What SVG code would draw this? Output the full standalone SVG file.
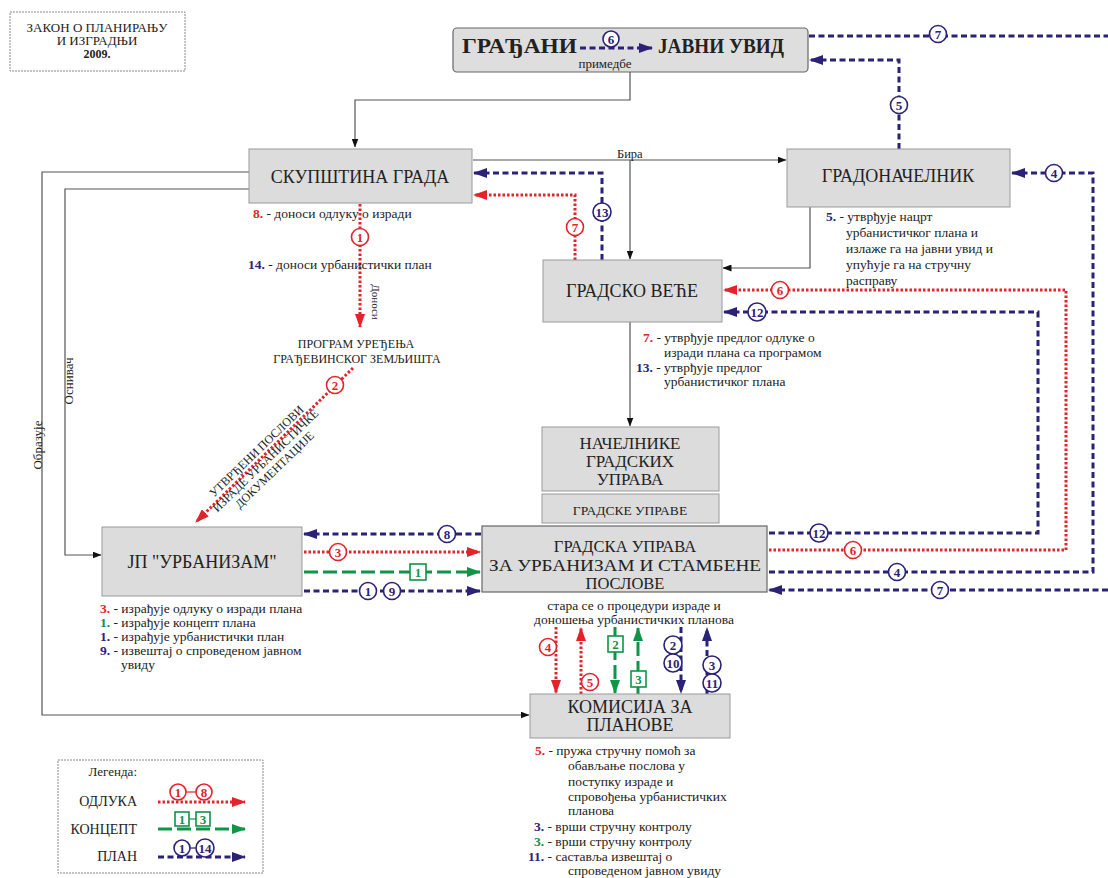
<svg xmlns="http://www.w3.org/2000/svg" width="1108" height="878" viewBox="0 0 1108 878">
<style>
.t{font-family:"Liberation Serif","Times New Roman",serif;fill:#222}
.box{fill:#dcdcdc;stroke:#9a9a9a;stroke-width:1}
.red{stroke:#e3232a;stroke-width:3;stroke-dasharray:2.5 2;fill:none}
.blue{stroke:#2b2277;stroke-width:3;stroke-dasharray:6 3.5;fill:none}
.green{stroke:#109448;stroke-width:3;stroke-dasharray:14 5;fill:none}
.gray{stroke:#555;stroke-width:1.2;fill:none}
.bR circle{fill:#fff;stroke:#e3232a;stroke-width:1.6}
.bB circle{fill:#fff;stroke:#2b2277;stroke-width:1.6}
.bG rect{fill:#fff;stroke:#109448;stroke-width:1.6}
.bR text,.bB text,.bG text{font-family:"Liberation Serif",serif;font-weight:bold;font-size:13px;text-anchor:middle}
.bR text{fill:#e3232a}.bB text{fill:#2b2277}.bG text{fill:#109448}
.nr{fill:#e3232a;font-weight:bold}.nb{fill:#2b2277;font-weight:bold}.ng{fill:#109448;font-weight:bold}
.mid{text-anchor:middle}
</style>
<defs>
<marker id="aR" viewBox="0 0 14 10" refX="13" refY="5" markerWidth="14" markerHeight="10" orient="auto" markerUnits="userSpaceOnUse"><path d="M0,0 L14,5 L0,10 Z" fill="#e3232a"/></marker>
<marker id="aB" viewBox="0 0 14 10" refX="13" refY="5" markerWidth="14" markerHeight="10" orient="auto" markerUnits="userSpaceOnUse"><path d="M0,0 L14,5 L0,10 Z" fill="#2b2277"/></marker>
<marker id="aG" viewBox="0 0 14 10" refX="13" refY="5" markerWidth="14" markerHeight="10" orient="auto" markerUnits="userSpaceOnUse"><path d="M0,0 L14,5 L0,10 Z" fill="#109448"/></marker>
<marker id="aK" viewBox="0 0 9 7" refX="8.5" refY="3.5" markerWidth="9" markerHeight="7" orient="auto" markerUnits="userSpaceOnUse"><path d="M0,0 L9,3.5 L0,7 Z" fill="#111"/></marker>
</defs>
<rect width="1108" height="878" fill="#fff"/>

<g id="title">
<rect x="10" y="12" width="175" height="59" fill="#fff" stroke="#888" stroke-width="1" stroke-dasharray="2 1"/>
<text class="t mid" x="97" y="32" font-size="13">ЗАКОН О ПЛАНИРАЊУ</text>
<text class="t mid" x="97" y="45" font-size="13">И ИЗГРАДЊИ</text>
<text class="t mid" x="97" y="58" font-size="12" font-weight="bold">2009.</text>
</g>

<g id="gradjani">
<rect x="453" y="28" width="355" height="44" rx="4" fill="#dedede" stroke="#666" stroke-width="1.2"/>
<text class="t" x="462" y="53" font-size="20" font-weight="bold" textLength="115" lengthAdjust="spacingAndGlyphs">ГРАЂАНИ</text>
<text class="t" x="658" y="53" font-size="20" font-weight="bold" textLength="126" lengthAdjust="spacingAndGlyphs">ЈАВНИ УВИД</text>
</g>

<g id="connectors">
<!-- gray -->
<path class="gray" d="M630,72 V100 H355 V147" marker-end="url(#aK)"/>
<path class="gray" d="M473,160 H786" marker-end="url(#aK)"/>
<path class="gray" d="M630,160 V259" marker-end="url(#aK)"/>
<path class="gray" d="M810,207 V268 H723" marker-end="url(#aK)"/>
<path class="gray" d="M630,322 V426" marker-end="url(#aK)"/>
<path class="gray" d="M249,172 H42 V715 H529" marker-end="url(#aK)"/>
<path class="gray" d="M249,189 H65 V555 H101" marker-end="url(#aK)"/>
<!-- top -->
<path class="blue" d="M580,48 H652" marker-end="url(#aB)"/>
<path class="blue" d="M809,36 H1108"/>
<path class="blue" d="M899,149 V60 H810" marker-end="url(#aB)"/>
<!-- skupstina -->
<path class="blue" d="M602,260 V173 H474" marker-end="url(#aB)"/>
<path class="red" d="M575,260 V195 H474" marker-end="url(#aR)"/>
<path class="red" d="M360,204 V327" marker-end="url(#aR)"/>
<path class="red" d="M353,368 L196,522" marker-end="url(#aR)"/>
<!-- right side -->
<path class="blue" d="M769,572 H1093 V173 H1012" marker-end="url(#aB)"/>
<path class="red" d="M769,550 H1066 V290 H724" marker-end="url(#aR)"/>
<path class="blue" d="M769,533 H1038 V312 H724" marker-end="url(#aB)"/>
<path class="blue" d="M1108,590 H769" marker-end="url(#aB)"/>
<!-- JP -->
<path class="blue" d="M481,534 H304" marker-end="url(#aB)"/>
<path class="red" d="M304,552 H480" marker-end="url(#aR)"/>
<path class="green" d="M304,572 H480" marker-end="url(#aG)"/>
<path class="blue" d="M304,591 H480" marker-end="url(#aB)"/>
<!-- komisija -->
<path class="red" d="M556,627 V693" marker-end="url(#aR)"/>
<path class="red" d="M581,694 V628" marker-end="url(#aR)"/>
<path class="green" d="M615,627 V693" marker-end="url(#aG)"/>
<path class="green" d="M638,694 V628" marker-end="url(#aG)"/>
<path class="blue" d="M681,627 V693" marker-end="url(#aB)"/>
<path class="blue" d="M707,694 V628" marker-end="url(#aB)"/>

<!-- badges -->
<g class="bB"><circle cx="611" cy="39" r="8"/><text x="611" y="43.5">6</text></g>
<g class="bB"><circle cx="938" cy="34" r="8.5"/><text x="938" y="38.5">7</text></g>
<g class="bB"><circle cx="899" cy="105" r="8.5"/><text x="899" y="109.5">5</text></g>
<g class="bB"><circle cx="602" cy="212" r="9"/><text x="602" y="216.5" font-size="11">13</text></g>
<g class="bR"><circle cx="575" cy="227" r="8.5"/><text x="575" y="231.5">7</text></g>
<g class="bR"><circle cx="360" cy="237" r="8.5"/><text x="360" y="241.5">1</text></g>
<g class="bR"><circle cx="335" cy="385" r="8.5"/><text x="335" y="389.5">2</text></g>
<g class="bB"><circle cx="1054" cy="173" r="8.5"/><text x="1054" y="177.5">4</text></g>
<g class="bR"><circle cx="780" cy="290" r="8.5"/><text x="780" y="294.5">6</text></g>
<g class="bB"><circle cx="757" cy="312" r="9"/><text x="757" y="316.5" font-size="11">12</text></g>
<g class="bB"><circle cx="819" cy="533" r="9"/><text x="819" y="537.5" font-size="11">12</text></g>
<g class="bR"><circle cx="853" cy="550" r="8.5"/><text x="853" y="554.5">6</text></g>
<g class="bB"><circle cx="897" cy="572" r="8.5"/><text x="897" y="576.5">4</text></g>
<g class="bB"><circle cx="940" cy="590" r="8.5"/><text x="940" y="594.5">7</text></g>
<g class="bB"><circle cx="447" cy="534" r="8.5"/><text x="447" y="538.5">8</text></g>
<g class="bR"><circle cx="338" cy="552" r="8.5"/><text x="338" y="556.5">3</text></g>
<g class="bG"><rect x="410" y="564" width="16" height="16"/><text x="418" y="576.5">1</text></g>
<g class="bB"><circle cx="368" cy="591" r="8.5"/><text x="368" y="595.5">1</text></g>
<g class="bB"><circle cx="392" cy="591" r="8.5"/><text x="392" y="595.5">9</text></g>
<g class="bR"><circle cx="548" cy="647" r="8.5"/><text x="548" y="651.5">4</text></g>
<g class="bR"><circle cx="590" cy="682" r="8.5"/><text x="590" y="686.5">5</text></g>
<g class="bG"><rect x="608" y="636" width="15" height="16"/><text x="615.5" y="648.5">2</text></g>
<g class="bG"><rect x="631" y="671" width="15" height="16"/><text x="638.5" y="683.5">3</text></g>
<g class="bB"><circle cx="673" cy="645" r="9"/><text x="673" y="649.5">2</text></g>
<g class="bB"><circle cx="673" cy="663" r="9"/><text x="673" y="667.5" font-size="11">10</text></g>
<g class="bB"><circle cx="712" cy="665" r="9"/><text x="712" y="669.5">3</text></g>
<g class="bB"><circle cx="712" cy="683" r="9"/><text x="712" y="687.5" font-size="11">11</text></g>
</g>

<!-- connector labels -->
<text class="t" x="617" y="158" font-size="12.5">Бира</text>
<text class="t" x="605" y="68" font-size="13" text-anchor="middle">примедбе</text>
<text class="t mid" font-size="11" transform="translate(372,302) rotate(90)">Доноси</text>
<text class="t mid" font-size="13" transform="translate(42,445) rotate(-90)">Образује</text>
<text class="t mid" font-size="13" transform="translate(73,381) rotate(-90)">Оснивач</text>
<g class="t" font-size="12" transform="translate(262,457) rotate(-44)">
<text class="t mid" x="0" y="-4">УТВРЂЕНИ ПОСЛОВИ</text>
<text class="t mid" x="0" y="9">ИЗРАДЕ УРБАНИСТИЧКЕ</text>
<text class="t mid" x="0" y="22">ДОКУМЕНТАЦИЈЕ</text>
</g>
<text class="t mid" x="356" y="348" font-size="12">ПРОГРАМ УРЕЂЕЊА</text>
<text class="t mid" x="357" y="363" font-size="12">ГРАЂЕВИНСКОГ ЗЕМЉИШТА</text>

<g id="skupstina">
<rect class="box" x="249" y="149" width="223" height="54"/>
<text class="t mid" x="360" y="183" font-size="18">СКУПШТИНА ГРАДА</text>
<text class="t" x="253" y="218" font-size="13.5"><tspan class="nr">8.</tspan> - доноси  одлуку о изради</text>
<text class="t" x="248" y="269" font-size="13.5"><tspan class="nb">14.</tspan> - доноси  урбанистички план</text>
</g>

<g id="gradonacelnik">
<rect class="box" x="787" y="149" width="223" height="58"/>
<text class="t mid" x="898" y="182" font-size="18">ГРАДОНАЧЕЛНИК</text>
<text class="t" x="826" y="221" font-size="13.5"><tspan class="nb">5.</tspan> - утврђује нацрт</text>
<text class="t" x="846" y="237" font-size="13.5">урбанистичког плана и</text>
<text class="t" x="846" y="253" font-size="13.5">излаже га на јавни увид и</text>
<text class="t" x="846" y="269" font-size="13.5">упућује га на стручну</text>
<text class="t" x="846" y="285" font-size="13.5">расправу</text>
</g>

<g id="vece">
<rect class="box" x="543" y="260" width="179" height="62"/>
<text class="t mid" x="632" y="297" font-size="18">ГРАДСКО ВЕЋЕ</text>
<text class="t" x="643" y="342" font-size="13.5"><tspan class="nr">7.</tspan> - утврђује предлог одлуке о</text>
<text class="t" x="664" y="357" font-size="13.5">изради плана са програмом</text>
<text class="t" x="636" y="372" font-size="13.5"><tspan class="nb">13.</tspan> - утврђује предлог</text>
<text class="t" x="664" y="386" font-size="13.5">урбанистичког плана</text>
</g>

<g id="nacelnike">
<rect class="box" x="542" y="427" width="177" height="64"/>
<text class="t mid" x="630" y="449" font-size="17">НАЧЕЛНИКЕ</text>
<text class="t mid" x="630" y="467" font-size="17">ГРАДСКИХ</text>
<text class="t mid" x="630" y="485" font-size="17">УПРАВА</text>
</g>

<g id="gradske-uprave">
<rect class="box" x="542" y="494" width="177" height="29"/>
<text class="t mid" x="630" y="515" font-size="13.5">ГРАДСКЕ УПРАВЕ</text>
</g>

<g id="uprava-urbanizam">
<rect x="482" y="526" width="285" height="66" fill="#dcdcdc" stroke="#666" stroke-width="1.2"/>
<text class="t mid" x="625" y="552" font-size="16.5">ГРАДСКА УПРАВА</text>
<text class="t mid" x="625" y="570.5" font-size="16.5" textLength="272" lengthAdjust="spacingAndGlyphs">ЗА УРБАНИЗАМ И СТАМБЕНЕ</text>
<text class="t mid" x="625" y="589" font-size="16.5">ПОСЛОВЕ</text>
<text class="t mid" x="634" y="610" font-size="13.5">стара се о процедури израде и</text>
<text class="t mid" x="634" y="624" font-size="13.5">доношења урбанистичких планова</text>
</g>

<g id="jp-urbanizam">
<rect class="box" x="102" y="527" width="200" height="69"/>
<text class="t mid" x="202" y="568" font-size="18">ЈП "УРБАНИЗАМ"</text>
<text class="t" x="100" y="613" font-size="13.5"><tspan class="nr">3.</tspan> - израђује одлуку о изради плана</text>
<text class="t" x="100" y="627" font-size="13.5"><tspan class="ng">1.</tspan> - израђује концепт плана</text>
<text class="t" x="100" y="641" font-size="13.5"><tspan class="nb">1.</tspan> - израђује урбанистички план</text>
<text class="t" x="100" y="655" font-size="13.5"><tspan class="nb">9.</tspan> - извештај о спроведеном јавном</text>
<text class="t" x="121" y="669" font-size="13.5">увиду</text>
</g>

<g id="komisija">
<rect class="box" x="530" y="694" width="200" height="44"/>
<text class="t mid" x="630" y="713" font-size="18">КОМИСИЈА ЗА</text>
<text class="t mid" x="630" y="731" font-size="18">ПЛАНОВЕ</text>
<text class="t" x="535" y="755" font-size="13.5"><tspan class="nr">5.</tspan> - пружа стручну помоћ за</text>
<text class="t" x="568" y="770" font-size="13.5">обављање послова у</text>
<text class="t" x="568" y="786" font-size="13.5">поступку израде и</text>
<text class="t" x="568" y="801" font-size="13.5">спровођења урбанистичких</text>
<text class="t" x="568" y="815" font-size="13.5">планова</text>
<text class="t" x="534" y="831" font-size="13.5"><tspan class="nb">3.</tspan> - врши стручну контролу</text>
<text class="t" x="534" y="846" font-size="13.5"><tspan class="ng">3.</tspan> - врши стручну контролу</text>
<text class="t" x="528" y="861" font-size="13.5"><tspan class="nb">11.</tspan> - саставља извештај о</text>
<text class="t" x="568" y="875" font-size="13.5">спроведеном јавном увиду</text>
</g>

<g id="legend">
<rect x="58" y="760" width="205" height="113" fill="#fff" stroke="#888" stroke-width="1" stroke-dasharray="2 1"/>
<text class="t" x="137" y="776" font-size="13" text-anchor="end">Легенда:</text>
<text class="t" x="137" y="806" font-size="14" text-anchor="end">ОДЛУКА</text>
<text class="t" x="137" y="834" font-size="14" text-anchor="end">КОНЦЕПТ</text>
<text class="t" x="137" y="861" font-size="14" text-anchor="end">ПЛАН</text>
<path class="red" d="M158,802 H245" marker-end="url(#aR)"/>
<path class="green" d="M158,829 H245" marker-end="url(#aG)"/>
<path class="blue" d="M158,857 H245" marker-end="url(#aB)"/>
<line x1="186" y1="792" x2="196" y2="792" stroke="#e3232a" stroke-width="1.2"/>
<g class="bR"><circle cx="178" cy="792" r="8"/><text x="178" y="796.5">1</text></g>
<g class="bR"><circle cx="204" cy="792" r="8"/><text x="204" y="796.5">8</text></g>
<line x1="189" y1="819" x2="196" y2="819" stroke="#109448" stroke-width="1.2"/>
<g class="bG"><rect x="175" y="812" width="14" height="14"/><text x="182" y="823.5">1</text></g>
<g class="bG"><rect x="196" y="812" width="14" height="14"/><text x="203" y="823.5">3</text></g>
<line x1="190" y1="848" x2="196" y2="848" stroke="#2b2277" stroke-width="1.2"/>
<g class="bB"><circle cx="182" cy="848" r="8"/><text x="182" y="852.5">1</text></g>
<g class="bB"><circle cx="205" cy="848" r="9"/><text x="205" y="852.5" font-size="11">14</text></g>
</g>
</svg>
